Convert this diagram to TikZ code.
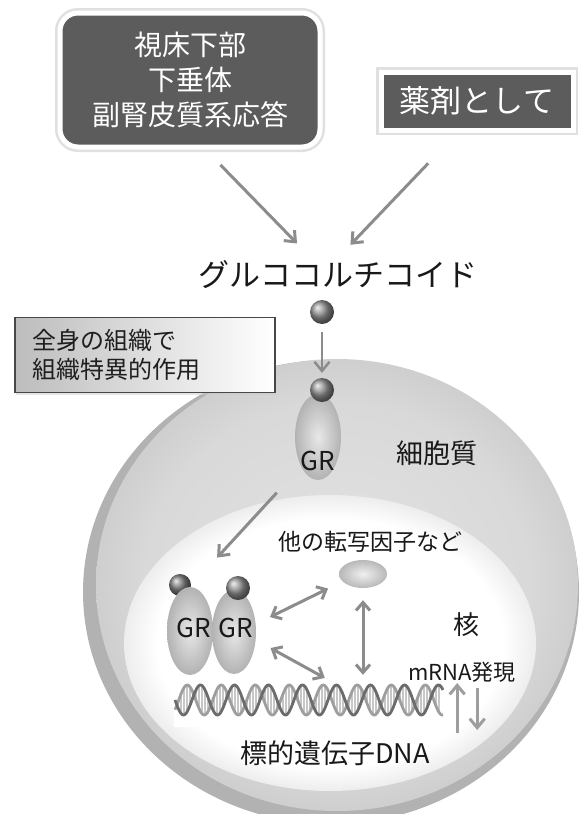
\documentclass[tikz,border=0pt]{standalone}
\usepackage{fontspec}
\newfontfamily\jp{Noto Sans CJK JP}
\usetikzlibrary{arrows.meta,shapes.geometric,shadows}
% shadings for the cell body and the nucleus
\pgfdeclareradialshading{cytoplasm}{\pgfpoint{0bp}{0bp}}{color(0bp)=(black!11); color(20bp)=(black!15); color(25bp)=(black!19); color(50bp)=(black!19)}
\pgfdeclareradialshading{nucleus}{\pgfpoint{0bp}{0bp}}{color(0bp)=(white); color(21bp)=(white); color(25bp)=(black!7); color(50bp)=(black!7)}
\tikzset{
  darkbox/.style={fill=black!64, draw=white, line width=5pt, text=white, inner sep=0pt, outer sep=0pt,
    align=center, preaction={draw=black!12, line width=10pt}},
  tagbox/.style={draw=black!72, line width=1.2pt, left color=black!26, right color=white, inner xsep=17pt,
    inner ysep=0pt, outer sep=0pt, align=left, text width=226pt, minimum height=75pt, text=black!88,
    drop shadow={fill=black!20, shadow xshift=1pt, shadow yshift=-2pt}},
  arr/.style={draw=black!45, line width=3pt, -{Straight Barb[length=9pt,width=15pt]}},
  twoway/.style={draw=black!45, line width=3pt, {Straight Barb[length=8pt,width=14pt]}-{Straight Barb[length=8pt,width=14pt]}},
  ligand/.style={circle, minimum size=24pt, inner sep=0pt, ball color=black!42},
  receptor/.style={ellipse, inner sep=0pt, outer sep=0pt, inner color=black!9, outer color=black!30,
    font=\jp\fontsize{26}{26}\selectfont, text=black!90},
  lbl/.style={inner sep=0pt, text=black!90}
}
\begin{document}
\begin{tikzpicture}[x=1pt,y=-1pt]
\useasboundingbox (0,0) rectangle (579,814);

% cell with its membrane and the nucleus
\fill[black!30] (331,592) ellipse [x radius=248, y radius=232];
\shade[shading=cytoplasm] (337,585) ellipse [x radius=241, y radius=226];
\shade[shading=nucleus] (330,643) ellipse [x radius=206, y radius=148];

% target DNA (one turn every 34pt)
\node[minimum width=270pt, minimum height=46pt, fill=white, inner sep=0pt] (dna) at (309,704) {};
\foreach \x in {178,181,...,441}
  \draw[black!22, line width=1.1pt] (\x,{700+15*sin(10.588*(\x-175))}) -- (\x,{700+15*sin(10.588*(\x-175)+140)});
\draw[black!38, line width=2.8pt, domain=175:443, samples=260, smooth] plot (\x,{700+15*sin(10.588*(\x-175)+140)});
\draw[black!58, line width=2.8pt, domain=175:443, samples=260, smooth] plot (\x,{700+15*sin(10.588*(\x-175))});

% sources of glucocorticoid
\node[darkbox, rounded corners=18pt, minimum width=260pt, minimum height=134pt,
  font=\jp\fontsize{28}{35}\selectfont] (hpa) at (190,80) {視床下部\\下垂体\\副腎皮質系応答};
\node[darkbox, minimum width=192pt, minimum height=58pt, font=\jp\fontsize{31}{31}\selectfont] (drug) at (477,101) {薬剤として};
\node[lbl, minimum height=34pt, font=\jp\fontsize{31}{31}\selectfont] (gc) at (338,275) {グルココルチコイド};
\draw[arr, shorten <=25pt, shorten >=20pt] ([xshift=13pt]hpa.south) -- ([xshift=-27pt]gc.north);
\draw[arr, shorten <=46pt, shorten >=18pt] ([xshift=-17pt]drug.south) -- (gc.north);

\node[tagbox, font=\jp\fontsize{24}{29}\selectfont] (tissue) at (145,355) {全身の組織で\\組織特異的作用};

% ligand entering the cell and binding GR
\node[ligand] (lig) at (322,312) {};
\node[receptor, minimum width=46pt, minimum height=86pt] (gr) at (318,437) {};
\node[ligand] (lig2) at (322,390) {};
\node[lbl, font=\jp\fontsize{26}{26}\selectfont] at ([yshift=-24pt]gr.center) {GR};
\draw[arr, line width=2.5pt, shorten <=8pt, shorten >=5pt] (lig) -- (lig2);
\node[lbl, font=\jp\fontsize{27}{27}\selectfont] (cyto) at (437,453) {細胞質};

% GR dimer in the nucleus
\node[ligand, minimum size=22pt, ball color=black!50] (liga) at (180,585) {};
\node[receptor, minimum width=46pt, minimum height=88pt] (gra) at (190,631) {};
\node[receptor, minimum width=44pt, minimum height=84pt] (grb) at (234,632) {};
\node[ligand] (ligb) at (238,588) {};
\node[lbl, font=\jp\fontsize{26}{26}\selectfont] at (194,628) {GR};
\node[lbl, font=\jp\fontsize{26}{26}\selectfont] at (236,628) {GR};
\draw[arr, shorten <=36pt, shorten >=40pt] (gr.240) -- (gra.north);

% other transcription factors
\node[lbl, font=\jp\fontsize{23}{23}\selectfont] (tftext) at (370,542) {他の転写因子など};
\node[ellipse, minimum width=48pt, minimum height=28pt, inner sep=0pt, inner color=black!6, outer color=black!28] (tf) at (363,574) {};
\draw[twoway, shorten <=16pt, shorten >=16pt] (grb.20) -- (tf.200);
\draw[twoway, shorten <=17pt, shorten >=6pt] (grb.-20) -- ([xshift=21pt]dna.north);
\draw[twoway, shorten <=12pt, shorten >=6pt] (tf.south) -- (tf.south |- dna.north);

% labels in the nucleus
\node[lbl, font=\jp\fontsize{26}{26}\selectfont] (nuc) at (466,625) {核};
\node[lbl, font=\jp\fontsize{22}{22}\selectfont] (mrna) at (462,672) {mRNA発現};
\node[lbl, font=\jp\fontsize{27}{27}\selectfont] (target) at (335,753) {標的遺伝子DNA};
\coordinate (up0) at ([xshift=13pt,yshift=-29pt]dna.east);
\coordinate (up1) at ([xshift=13pt,yshift=21pt]dna.east);
\coordinate (dn0) at ([xshift=33pt,yshift=16pt]dna.east);
\coordinate (dn1) at ([xshift=33pt,yshift=-26pt]dna.east);
\draw[arr, draw=black!38, line width=3pt] (up0) -- (up1);
\draw[arr, draw=black!38, line width=3pt] (dn0) -- (dn1);
\end{tikzpicture}
\end{document}
